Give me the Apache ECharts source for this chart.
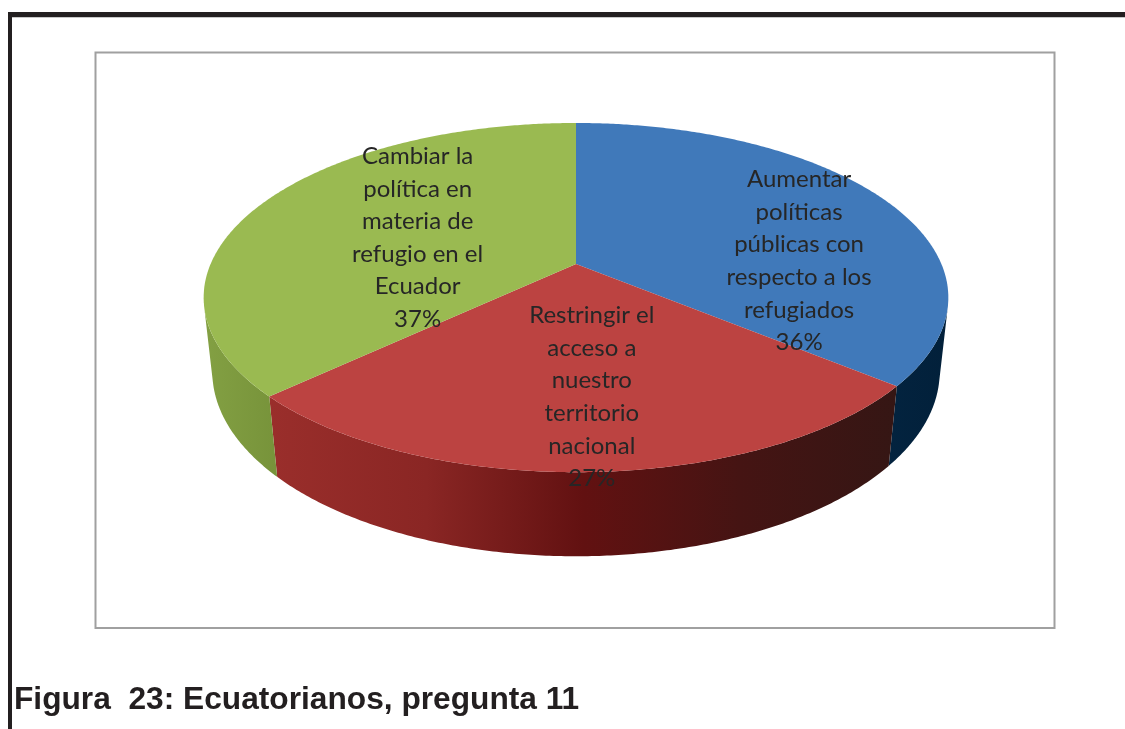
<!DOCTYPE html>
<html>
<head>
<meta charset="utf-8">
<script src="https://cdn.jsdelivr.net/npm/echarts@6/dist/echarts.min.js"></script>
<style>
  html, body { margin: 0; padding: 0; background: #fff; }
  #chart { width: 1125px; height: 729px; }
</style>
</head>
<body>
<div id="chart"></div>
<script>
const categories = [
  'Aumentar políticas públicas con respecto a los refugiados',
  'Restringir el acceso a nuestro territorio nacional',
  'Cambiar la política en materia de refugio en el Ecuador'
]
// texto de la etiqueta tal como se parte en líneas
const labelLines = [
  ['Aumentar', 'políticas', 'públicas con', 'respecto a los', 'refugiados'],
  ['Restringir el', 'acceso a', 'nuestro', 'territorio', 'nacional'],
  ['Cambiar la', 'política en', 'materia de', 'refugio en el', 'Ecuador']
]
const values = [36, 27, 37]

// colores: cara superior y pared lateral
const topColors = ['#4079ba', '#bc4341', '#9aba51']
const wallColors = [
  ['#03233f', '#02203a'],
  ['#9a2e2b', '#8a2624', '#621111', '#451413', '#351614'],
  ['#83a043', '#77933a']
]

// cámara de la vista 3D (tipo Excel)
const cam = { D: 4.617, alpha: 27.4 * Math.PI / 180, S: 1687, cx: 576, cy: 264, h: 0.23 }
const labelRadius = 0.6
const labelNudge = [[34, 38], [8, 19], [34, 12]]

const total = values.reduce((a, b) => a + b, 0)

// proyección en perspectiva de un punto del disco (r, ángulo desde arriba, altura z)
const project = (r, theta, z) => {
  const s = Math.sin(cam.alpha)
  const c = Math.cos(cam.alpha)
  const qx = r * Math.sin(theta)
  const qy = r * Math.cos(theta) + cam.D * c
  const qz = z - cam.D * s
  const depth = qy * c - qz * s
  const up = qy * s + qz * c
  return [cam.cx + cam.S * qx / depth, cam.cy - cam.S * up / depth]
}

const makeFill = (stops) => {
  if (stops.length === 1) return stops[0]
  return new echarts.graphic.LinearGradient(0, 0, 1, 0,
    stops.map((col, k) => ({ offset: k / (stops.length - 1), color: col })))
}

const renderSlice = (params, api) => {
  const i = params.dataIndex
  let start = 0
  for (let k = 0; k < i; k++) start += values[k]
  const a0 = start / total * Math.PI * 2
  const a1 = (start + values[i]) / total * Math.PI * 2
  const step = Math.PI / 360
  const children = []

  // pared lateral visible (frente del cilindro)
  const lim = Math.acos(-1 / (cam.D * Math.cos(cam.alpha)))
  const w0 = Math.max(a0, lim)
  const w1 = Math.min(a1, Math.PI * 2 - lim)
  if (w1 > w0) {
    const m = Math.ceil((w1 - w0) / step)
    const upper = []
    const lower = []
    for (let k = 0; k <= m; k++) {
      const t = w0 + (w1 - w0) * k / m
      upper.push(project(1, t, 0))
      lower.push(project(1, t, -cam.h))
    }
    children.push({
      type: 'polygon',
      z2: 1,
      shape: { points: upper.concat(lower.reverse()) },
      style: { fill: makeFill(wallColors[i]) }
    })
  }

  // cara superior
  const n = Math.ceil((a1 - a0) / step)
  const top = [project(0, 0, 0)]
  for (let k = 0; k <= n; k++) top.push(project(1, a0 + (a1 - a0) * k / n, 0))
  children.push({
    type: 'polygon',
    z2: 2,
    shape: { points: top },
    style: { fill: topColors[i] }
  })

  // etiqueta
  const mid = (a0 + a1) / 2
  const p = project(labelRadius, mid, 0)
  const pct = Math.round(api.value(0) / total * 100) + '%'
  children.push({
    type: 'text',
    z2: 3,
    x: p[0] + labelNudge[i][0],
    y: p[1] + labelNudge[i][1],
    style: {
      text: labelLines[i].concat(pct).join('\n'),
      fill: '#262626',
      font: '24px Lato',
      lineHeight: 32.6,
      align: 'center',
      verticalAlign: 'middle'
    }
  })

  return { type: 'group', children }
}

const chart = echarts.init(document.getElementById('chart'), null, { renderer: 'canvas' })

const option = {
  animation: false,
  backgroundColor: '#ffffff',
  graphic: [
    { type: 'rect', shape: { x: 8, y: 12, width: 1117, height: 5 }, style: { fill: '#231f20' } },
    { type: 'rect', shape: { x: 8, y: 12, width: 4, height: 717 }, style: { fill: '#231f20' } },
    { type: 'rect', shape: { x: 12, y: 17, width: 1113, height: 1 }, style: { fill: '#c8c8c8' } },
    {
      type: 'rect',
      shape: { x: 95.5, y: 52.5, width: 959, height: 575.5 },
      style: { fill: 'none', stroke: '#a0a0a0', lineWidth: 2 }
    },
    {
      type: 'text',
      x: 14,
      y: 700,
      style: {
        text: 'Figura  23: Ecuatorianos, pregunta 11',
        font: 'bold 31.7px "Liberation Sans", Arial, sans-serif',
        fill: '#231f20',
        verticalAlign: 'middle'
      }
    }
  ],
  series: [
    {
      type: 'custom',
      coordinateSystem: 'none',
      renderItem: renderSlice,
      data: values.map((v, i) => ({ name: categories[i], value: v }))
    }
  ]
}

chart.setOption(option)
</script>
</body>
</html>
